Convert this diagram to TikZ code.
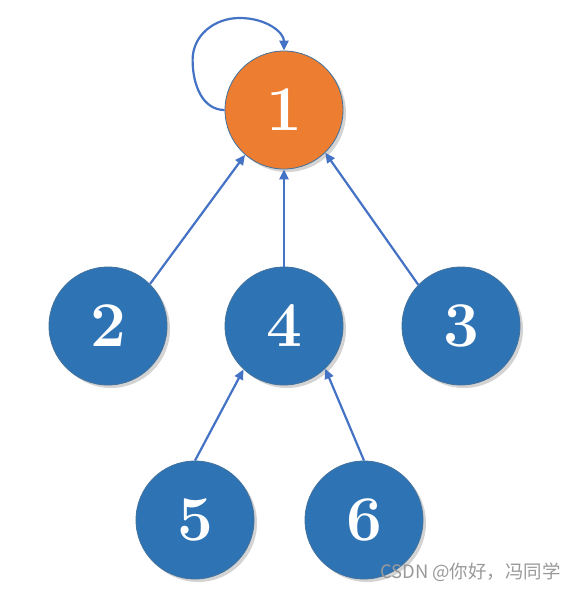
\documentclass[tikz,border=0pt]{standalone}
\usepackage{fontspec}
\newfontfamily\cjk{Noto Sans CJK SC}
\usetikzlibrary{arrows.meta,shadows}
\definecolor{nodeorange}{HTML}{ED7D31}
\definecolor{nodeblue}{HTML}{2E74B5}
\definecolor{edgeblue}{HTML}{4472C4}
\definecolor{rimblue}{HTML}{41719C}
\begin{document}
\begin{tikzpicture}[x=1bp,y=-1bp,
  vertex/.style={circle,minimum size=118bp,inner sep=0pt,draw=rimblue,line width=0.8bp,
    text=white,font=\fontsize{64}{66}\selectfont\bfseries,
    drop shadow={shadow xshift=3bp,shadow yshift=-3bp,opacity=0.35,fill=gray}},
  bluev/.style={vertex,fill=nodeblue},
  orangev/.style={vertex,fill=nodeorange},
  edge/.style={draw=edgeblue,line width=2.2bp,-{Triangle[length=10bp,width=9bp]}}]
\useasboundingbox (0,0) rectangle (578,590);
\node[orangev] (n1) at (284,110) {1};
\node[bluev] (n2) at (108,326) {2};
\node[bluev] (n4) at (284,326) {4};
\node[bluev] (n3) at (461,326) {3};
\node[bluev] (n5) at (195,520) {5};
\node[bluev] (n6) at (364,520) {6};
\draw[edge] (n2.45) -- (n1.229);
\draw[edge] (n4) -- (n1);
\draw[edge] (n3.136) -- (n1.314);
\draw[edge] (n5.north) -- (n4.227);
\draw[edge] (n6.north) -- (n4.314);
\draw[edge] (n1.180) .. controls +(-22,0) and +(0,25) .. ++(-32,-50)
  .. controls +(0,-25) and +(-25,0) .. ++(47,-42)
  .. controls +(27,0) and +(0,-18) .. (n1.north);
\node[font=\cjk\fontsize{18.5}{20}\selectfont,text=gray!80,anchor=east] (wm) at (564,572) {CSDN @你好，冯同学};
\end{tikzpicture}
\end{document}
